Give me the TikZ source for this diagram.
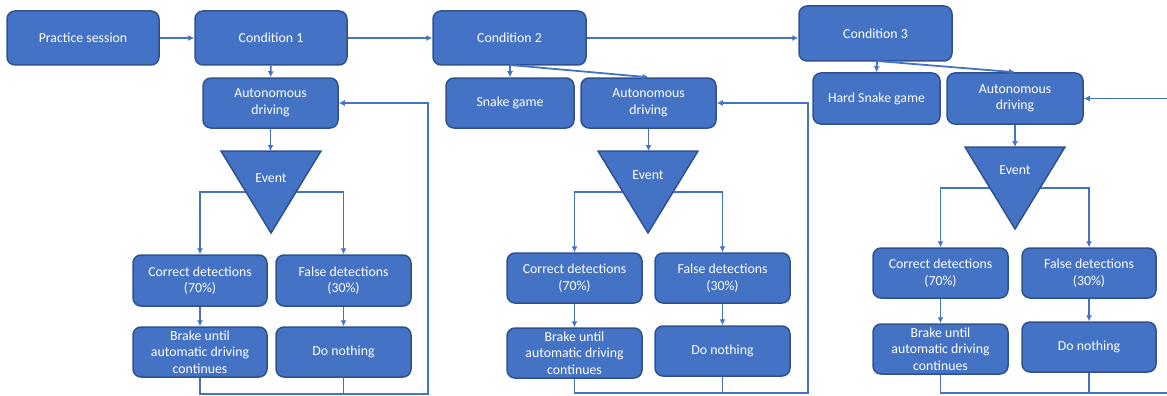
\documentclass[tikz,border=0pt]{standalone}
\usepackage{fontspec}
\setmainfont{Carlito}
\usetikzlibrary{arrows.meta}
\definecolor{boxfill}{HTML}{4472C4}
\definecolor{boxborder}{HTML}{2F528F}
\definecolor{linecol}{HTML}{4472C4}
\begin{document}
\begin{tikzpicture}[x=1pt,y=-1pt,
  box/.style={draw=boxborder, fill=boxfill, rounded corners=8pt, line width=1.5pt,
    text=white, align=center, inner sep=0pt,
    font=\fontsize{13.8}{16.5}\selectfont},
  tri/.style={draw=boxborder, fill=boxfill, line width=1.5pt, line join=miter},
  lbl/.style={text=white, inner sep=0pt, font=\fontsize{13.8}{16.5}\selectfont},
  conn/.style={draw=linecol, line width=1.8pt},
  arr/.style={conn, -{Latex[length=6pt,width=6pt]}}]
\useasboundingbox (0,0) rectangle (1167,396);

% ---------- top row ----------
\node[box, minimum width=152pt, minimum height=54pt] (ps) at (83,38) {Practice session};
\node[box, minimum width=152pt, minimum height=54pt] (c1) at (271,38) {Condition 1};
\node[box, minimum width=153pt, minimum height=54pt] (c2) at (509.5,38) {Condition 2};
\node[box, minimum width=153pt, minimum height=55pt] (c3) at (875.5,33.5) {Condition 3};

% ---------- column 1 ----------
\node[box, minimum width=135pt, minimum height=50pt] (ad1) at (270.5,103) {Autonomous\\driving};
\node[box, minimum width=134pt, minimum height=51pt] (cd1) at (200,280.5) {Correct detections\\(70\%)};
\node[box, minimum width=135pt, minimum height=51pt] (fd1) at (343.5,280.5) {False detections\\(30\%)};
\node[box, minimum width=134pt, minimum height=50pt] (br1) at (200,352) {Brake until\\automatic driving\\continues};
\node[box, minimum width=135pt, minimum height=50pt] (dn1) at (343.5,352) {Do nothing};
\coordinate (t1a) at (221,151); \coordinate (t1b) at (321,151); \coordinate (t1c) at (271,233);
\coordinate (t1top) at (270.5,151);
\coordinate (b1) at (271,192);
\coordinate (lp1) at (428,394);

% ---------- column 2 ----------
\node[box, minimum width=128pt, minimum height=50pt] (sg) at (510,103) {Snake game};
\node[box, minimum width=135pt, minimum height=50pt] (ad2) at (648.5,103) {Autonomous\\driving};
\node[box, minimum width=135pt, minimum height=50pt] (cd2) at (574.5,278) {Correct detections\\(70\%)};
\node[box, minimum width=135pt, minimum height=50pt] (fd2) at (722.5,278) {False detections\\(30\%)};
\node[box, minimum width=135pt, minimum height=50pt] (br2) at (574.5,353) {Brake until\\automatic driving\\continues};
\node[box, minimum width=135pt, minimum height=50pt] (dn2) at (722.5,351) {Do nothing};
\coordinate (t2a) at (598,151); \coordinate (t2b) at (698,151); \coordinate (t2c) at (648,233);
\coordinate (t2top) at (648.5,151);
\coordinate (b2) at (648,192);
\coordinate (lp2) at (808,393);
\coordinate (c2s) at (510,65);

% ---------- column 3 ----------
\node[box, minimum width=127pt, minimum height=51pt] (hs) at (876.5,98.5) {Hard Snake game};
\node[box, minimum width=136pt, minimum height=51pt] (ad3) at (1015,98.5) {Autonomous\\driving};
\node[box, minimum width=135pt, minimum height=50pt] (cd3) at (940.5,273) {Correct detections\\(70\%)};
\node[box, minimum width=134pt, minimum height=50pt] (fd3) at (1089,273) {False detections\\(30\%)};
\node[box, minimum width=135pt, minimum height=50pt] (br3) at (940.5,349) {Brake until\\automatic driving\\continues};
\node[box, minimum width=134pt, minimum height=50pt] (dn3) at (1089,347) {Do nothing};
\coordinate (t3a) at (965,147); \coordinate (t3b) at (1065,147); \coordinate (t3c) at (1015,229);
\coordinate (t3top) at (1015,147);
\coordinate (b3) at (1015,188);
\coordinate (lp3) at (1167,393);
\coordinate (in3) at (1167,98.5);
\coordinate (c3s) at (877,61);

% ---------- connectors ----------
\draw[arr] (ps) -- (c1);
\draw[arr] (c1) -- (c2);
\draw[arr] (c2.east) -- (c2.east -| c3.west);

% column 1
\draw[arr] (c1) -- (ad1);
\draw[arr] (ad1) -- (t1top);
\draw[arr] (b1) -| (cd1.north);
\draw[arr] (b1) -| (fd1.north);
\draw[arr] (cd1) -- (br1);
\draw[arr] (fd1) -- (dn1);
\draw[arr] (br1.south) |- (lp1) |- (ad1.east);
\draw[conn] (dn1.south) -- (dn1.south |- lp1);

% column 2
\draw[arr] (c2s) -- (sg.north);
\draw[arr] (c2s) -- (ad2.north);
\draw[arr] (ad2) -- (t2top);
\draw[arr] (b2) -| (cd2.north);
\draw[arr] (b2) -| (fd2.north);
\draw[arr] (cd2) -- (br2);
\draw[arr] (fd2) -- (dn2);
\draw[arr] (br2.south) |- (lp2) |- (ad2.east);
\draw[conn] (dn2.south) -- (dn2.south |- lp2);

% column 3
\draw[arr] (c3s) -- (hs.north);
\draw[arr] (c3s) -- (ad3.north);
\draw[arr] (ad3) -- (t3top);
\draw[arr] (b3) -| (cd3.north);
\draw[arr] (b3) -| (fd3.north);
\draw[arr] (cd3) -- (br3);
\draw[arr] (fd3) -- (dn3);
\draw[conn] (br3.south) |- (lp3);
\draw[conn] (dn3.south) -- (dn3.south |- lp3);
\draw[arr] (in3) -- (ad3.east);

% ---------- event triangles ----------
\draw[tri] (t1a) -- (t1b) -- (t1c) -- cycle;
\draw[tri] (t2a) -- (t2b) -- (t2c) -- cycle;
\draw[tri] (t3a) -- (t3b) -- (t3c) -- cycle;
\node[lbl] (ev1) at (271,178) {Event};
\node[lbl] (ev2) at (648,175) {Event};
\node[lbl] (ev3) at (1015,170) {Event};
\end{tikzpicture}
\end{document}
